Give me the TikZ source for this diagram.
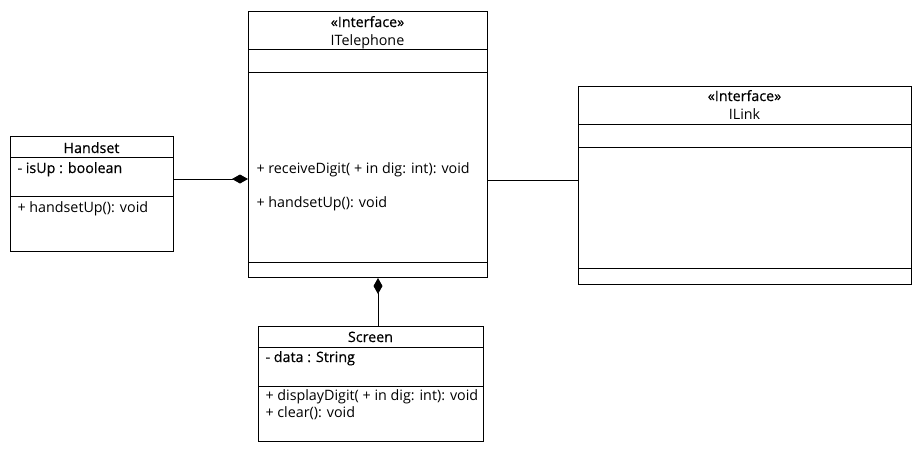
\documentclass[tikz,border=0pt]{standalone}
\usepackage{fontspec}
\setmainfont{Open Sans}
\newfontfamily\mediumfont[FakeBold=0.5]{Open Sans}
\usetikzlibrary{arrows.meta}

\begin{document}
\begin{tikzpicture}[x=1pt,y=-1pt,line width=1pt,
        classbox/.style={draw,anchor=north west,inner sep=0pt},
        title/.style={anchor=base,inner sep=0pt,font=\fontsize{14.3}{16}\selectfont},
        member/.style={anchor=base west,inner sep=0pt,font=\fontsize{14.3}{16}\selectfont},
        strong/.style={font=\fontsize{14.3}{16}\mediumfont},
        composition/.style={-{Diamond[length=16pt,width=9pt]}}]
        \useasboundingbox (0,0) rectangle (921,451);
        \node[classbox,minimum width=163pt,minimum height=115pt] (handset) at (10,136) {};
        \draw (10,157) -- (173,157);
        \draw (10,196) -- (173,196);
        \node[title,strong] (handsetname) at (91.5,153) {Handset};
        \node[member,strong] (isup) at (17,173) {- isUp : boolean};
        \node[member] (handsetup) at (17,212) {+ handsetUp(): void};
        \node[classbox,minimum width=239pt,minimum height=266pt] (telephone) at (248,11) {};
        \draw (248,49) -- (487,49);
        \draw (248,72) -- (487,72);
        \draw (248,262) -- (487,262);
        \node[title,strong] (telstereo) at (367.5,27) {«Interface»};
        \node[title] (telname) at (367.5,45) {ITelephone};
        \node[member] (receive) at (256,173) {+ receiveDigit( + in dig: int): void};
        \node[member] (telup) at (256,207) {+ handsetUp(): void};
        \node[classbox,minimum width=333pt,minimum height=198pt] (link) at (578,86) {};
        \draw (578,124) -- (911,124);
        \draw (578,147) -- (911,147);
        \draw (578,268) -- (911,268);
        \node[title,strong] (linkstereo) at (744.5,101) {«Interface»};
        \node[title] (linkname) at (744.5,119) {ILink};
        \node[classbox,minimum width=225pt,minimum height=115pt] (screen) at (258,326) {};
        \draw (258,347) -- (483,347);
        \draw (258,386) -- (483,386);
        \node[title,strong] (screenname) at (370.5,342) {Screen};
        \node[member,strong] (data) at (265,362) {- data : String};
        \node[member] (display) at (265,400) {+ displayDigit( + in dig: int): void};
        \node[member] (clear) at (265,417) {+ clear(): void};
        \draw[composition] (handset.east |- 0,179) -- (telephone.west |- 0,179);
        \draw (telephone.east |- 0,180) -- (link.west |- 0,180);
        \draw[composition] (screen.north -| 378,0) -- (telephone.south -| 378,0);
    \end{tikzpicture}
\end{document}
